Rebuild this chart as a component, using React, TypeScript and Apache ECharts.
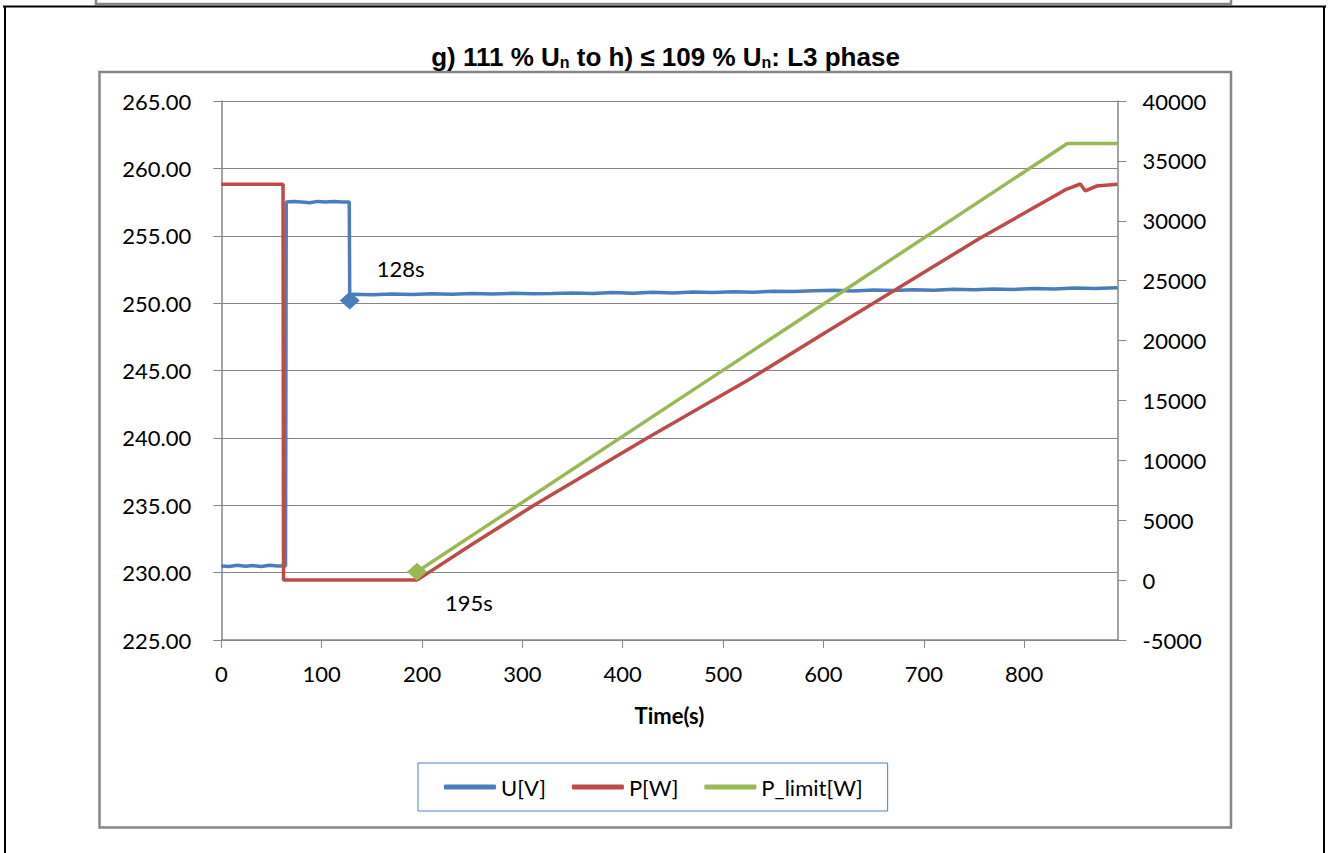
import React, { useEffect, useRef } from "react";
import * as echarts from "echarts";

const FONT = "Lato";
const TITLE_FONT = "Liberation Sans";

const X_TICKS = [0, 100, 200, 300, 400, 500, 600, 700, 800];
const X_MAX = 893;
const U_MIN = 225;
const U_MAX = 265;
const U_STEP = 5;
const P_MIN = -5000;
const P_MAX = 40000;
const P_STEP = 5000;

const SERIES_NAMES = ["U[V]", "P[W]", "P_limit[W]"];
const SERIES_COLORS = ["#4a7ebb", "#be4b48", "#98b954"];

// U[V] (left axis): [time s, volts]
const U_DATA: [number, number][] = [
  [0, 230.5], [8, 230.45], [16, 230.55], [24, 230.48], [32, 230.52], [40, 230.45],
  [48, 230.55], [56, 230.5], [64, 230.5], [64.7, 257.5], [72, 257.55], [80, 257.5],
  [88, 257.45], [96, 257.55], [104, 257.5], [112, 257.55], [120, 257.5], [127.5, 257.5],
  [128, 250.2], [130, 250.65], [150, 250.62], [170, 250.68], [190, 250.64], [210, 250.7],
  [230, 250.66], [250, 250.71], [270, 250.67], [290, 250.73], [310, 250.69], [330, 250.72],
  [350, 250.76], [370, 250.71], [390, 250.78], [410, 250.74], [430, 250.8], [450, 250.75],
  [470, 250.82], [490, 250.79], [510, 250.84], [530, 250.8], [550, 250.88], [570, 250.86],
  [590, 250.91], [610, 250.95], [630, 250.9], [650, 250.97], [670, 250.93], [690, 251.0],
  [710, 250.96], [730, 251.03], [750, 250.99], [770, 251.05], [790, 251.02], [810, 251.08],
  [830, 251.05], [850, 251.12], [870, 251.09], [893, 251.14],
];

// P[W] (right axis)
const P_DATA: [number, number][] = [
  [0, 33050], [30, 33050], [61.5, 33050], [62, 0], [100, 0], [150, 0], [195, 0],
  [250, 3000], [312, 6270], [424, 11840], [525, 16700], [606, 20880], [755, 28500],
  [842, 32630], [856, 33070], [861, 32490], [872, 32900], [893, 33050],
];

// P_limit[W] (right axis)
const PLIMIT_DATA: [number, number][] = [
  [195, 700], [843, 36450], [893, 36450],
];

// annotated points
const U_MARK: [number, number] = [128, 250.2];
const U_MARK_LABEL = "128s";
const PLIMIT_MARK: [number, number] = [195, 700];
const PLIMIT_MARK_LABEL = "195s";

const GRID_COLOR = "#868686";

export default function App() {
  const ref = useRef<HTMLDivElement>(null);
  useEffect(() => {
    if (!ref.current) return;
    const chart = echarts.init(ref.current, undefined, { renderer: "svg" });
    const labelStyle = { fontFamily: FONT, fontSize: 22, color: "#000" };
    const markLabel = (text: string, offset: number[]) => ({
      show: true,
      formatter: text,
      position: "right",
      offset,
      ...labelStyle,
    });
    chart.setOption({
      animation: false,
      backgroundColor: "#fff",
      title: {
        text: "g) 111 % U{s|n} to h) ≤ 109 % U{s|n}: L3 phase",
        left: "center",
        top: 39,
        textStyle: {
          fontFamily: TITLE_FONT,
          fontSize: 26,
          fontWeight: "bold",
          color: "#000",
          rich: {
            s: {
              fontFamily: TITLE_FONT,
              fontSize: 16,
              fontWeight: "bold",
              color: "#000",
              verticalAlign: "bottom",
            },
          },
        },
      },
      legend: {
        data: SERIES_NAMES,
        left: 418,
        top: 763,
        icon: "roundRect",
        itemWidth: 52,
        itemHeight: 5,
        itemGap: 26,
        padding: [13, 25, 13, 26],
        borderColor: "#4f81bd",
        borderWidth: 1,
        textStyle: { ...labelStyle, lineHeight: 22 },
      },
      grid: { left: 221.3, right: 213.5, top: 101, bottom: 213, containLabel: false },
      xAxis: {
        type: "value",
        min: 0,
        max: X_MAX,
        interval: 100,
        name: "Time(s)",
        nameLocation: "middle",
        nameGap: 64,
        nameTextStyle: { fontFamily: FONT, fontSize: 22, fontWeight: "bold", color: "#000" },
        axisLine: { show: true, onZero: false, lineStyle: { color: GRID_COLOR, width: 1.5 } },
        axisTick: { show: true, length: 8, customValues: X_TICKS, lineStyle: { color: GRID_COLOR } },
        axisLabel: { ...labelStyle, margin: 22, customValues: X_TICKS },
        splitLine: { show: false },
      },
      yAxis: [
        {
          type: "value",
          position: "left",
          min: U_MIN,
          max: U_MAX,
          interval: U_STEP,
          axisLine: { show: true, lineStyle: { color: GRID_COLOR, width: 1.5 } },
          axisTick: { show: true, length: 8, lineStyle: { color: GRID_COLOR } },
          axisLabel: { ...labelStyle, margin: 30, formatter: (v: number) => v.toFixed(2) },
          splitLine: { show: true, lineStyle: { color: GRID_COLOR, width: 1 } },
        },
        {
          type: "value",
          position: "right",
          min: P_MIN,
          max: P_MAX,
          interval: P_STEP,
          axisLine: { show: true, lineStyle: { color: GRID_COLOR, width: 1.5 } },
          axisTick: { show: true, length: 9, lineStyle: { color: GRID_COLOR } },
          axisLabel: { ...labelStyle, margin: 25, formatter: (v: number) => String(v) },
          splitLine: { show: false },
        },
      ],
      series: [
        {
          name: SERIES_NAMES[0],
          type: "line",
          yAxisIndex: 0,
          data: U_DATA,
          symbol: "none",
          color: SERIES_COLORS[0],
          lineStyle: { width: 3.5, color: SERIES_COLORS[0] },
          markPoint: {
            symbol: "diamond",
            symbolSize: [20, 18],
            itemStyle: { color: SERIES_COLORS[0] },
            label: markLabel(U_MARK_LABEL, [12, -32]),
            data: [{ coord: U_MARK }],
          },
        },
        {
          name: SERIES_NAMES[1],
          type: "line",
          yAxisIndex: 1,
          data: P_DATA,
          symbol: "none",
          color: SERIES_COLORS[1],
          lineStyle: { width: 3.5, color: SERIES_COLORS[1] },
        },
        {
          name: SERIES_NAMES[2],
          type: "line",
          yAxisIndex: 1,
          data: PLIMIT_DATA,
          symbol: "none",
          color: SERIES_COLORS[2],
          lineStyle: { width: 3.5, color: SERIES_COLORS[2] },
          markPoint: {
            symbol: "diamond",
            symbolSize: [20, 18],
            itemStyle: { color: SERIES_COLORS[2] },
            label: markLabel(PLIMIT_MARK_LABEL, [13, 31]),
            data: [{ coord: PLIMIT_MARK }],
          },
        },
      ],
      graphic: [
        { type: "rect", shape: { x: 96, y: -20, width: 1135, height: 24 }, style: { fill: "none", stroke: GRID_COLOR, lineWidth: 2.5 } },
        { type: "line", shape: { x1: 3, y1: 6.5, x2: 1326, y2: 6.5 }, style: { stroke: "#000", lineWidth: 2 } },
        { type: "line", shape: { x1: 5, y1: 6, x2: 5, y2: 853 }, style: { stroke: "#000", lineWidth: 2 } },
        { type: "line", shape: { x1: 1324, y1: 6, x2: 1324, y2: 853 }, style: { stroke: "#000", lineWidth: 2 } },
        { type: "rect", shape: { x: 99.5, y: 72, width: 1131.5, height: 755.5 }, style: { fill: "none", stroke: GRID_COLOR, lineWidth: 2.5 } },
      ],
    });
    return () => chart.dispose();
  }, []);
  return (
    <div
      ref={ref}
      style={{ position: "fixed", left: 0, top: 0, width: 1331, height: 853, background: "#fff" }}
    />
  );
}
